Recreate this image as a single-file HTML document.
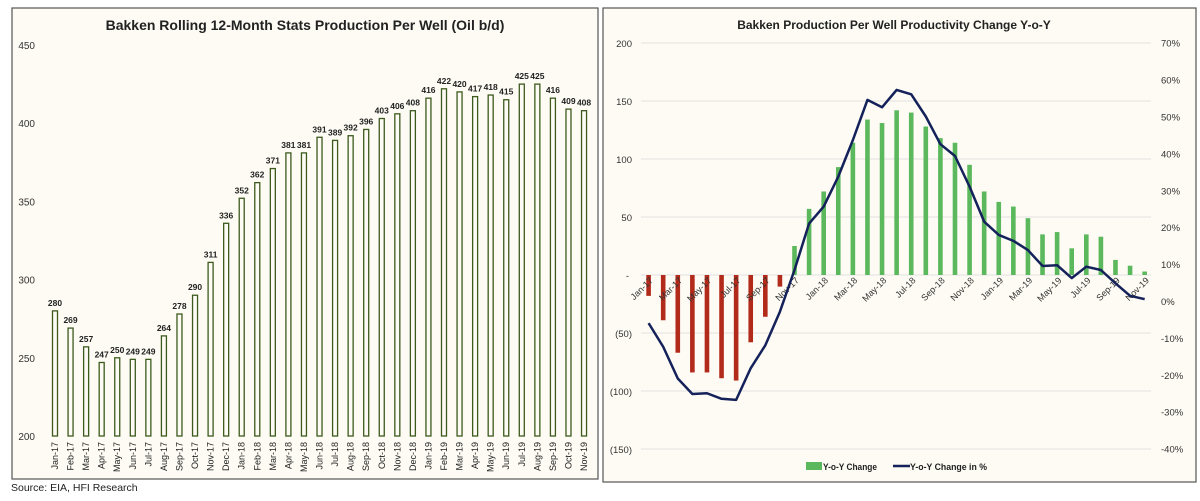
<!DOCTYPE html>
<html><head><meta charset="utf-8"><style>
html,body{margin:0;padding:0;background:#fff;}
svg{display:block;font-family:"Liberation Sans",sans-serif;}
</style></head><body>
<svg id="s" width="1200" height="501" viewBox="0 0 1200 501">
<rect x="12" y="8" width="586" height="471" fill="#fdfbf3" stroke="#555" stroke-width="1.2"/>
<text x="305" y="30" text-anchor="middle" font-size="14" font-weight="bold" fill="#222">Bakken Rolling 12-Month Stats Production Per Well (Oil b/d)</text>
<g id="L"></g>
<text x="11" y="491" font-size="10.5" fill="#222">Source: EIA, HFI Research</text>
<rect x="603" y="8" width="593" height="474" fill="#fdfbf3" stroke="#555" stroke-width="1.2"/>
<text x="894" y="29" text-anchor="middle" font-size="12" font-weight="bold" fill="#222">Bakken Production Per Well Productivity Change Y-o-Y</text>
<g id="R"></g>
<rect x="806" y="462" width="16" height="8" fill="#5cb85c"/>
<text x="823" y="470" font-size="9" font-weight="bold" fill="#222" textLength="54" lengthAdjust="spacingAndGlyphs">Y-o-Y Change</text>
<line x1="893" y1="466" x2="910" y2="466" stroke="#14215a" stroke-width="2.5"/>
<text x="910" y="470" font-size="9" font-weight="bold" fill="#222" textLength="77" lengthAdjust="spacingAndGlyphs">Y-o-Y Change in %</text>
</svg>
<script>
const months = ["Jan-17","Feb-17","Mar-17","Apr-17","May-17","Jun-17","Jul-17","Aug-17","Sep-17","Oct-17","Nov-17","Dec-17","Jan-18","Feb-18","Mar-18","Apr-18","May-18","Jun-18","Jul-18","Aug-18","Sep-18","Oct-18","Nov-18","Dec-18","Jan-19","Feb-19","Mar-19","Apr-19","May-19","Jun-19","Jul-19","Aug-19","Sep-19","Oct-19","Nov-19"];
const perWell = [280,269,257,247,250,249,249,264,278,290,311,336,352,362,371,381,381,391,389,392,396,403,406,408,416,422,420,417,418,415,425,425,416,409,408];
const leftTicks = [200,250,300,350,400,450];
const yoyChange = [-18,-39,-67,-84,-84,-89,-91,-58,-36,-10,25,57,72,93,114,134,131,142,140,128,118,114,95,72,63,59,49,35,37,23,35,33,13,8,3];
const yoyPct = [-6,-12.4,-21,-25.2,-25,-26.5,-26.8,-18.2,-12,-2.9,8.4,21,25.6,33.7,43.6,54.5,52.5,57.2,56,50,42.5,39.3,31,21.5,17.9,16.3,13.8,9.5,9.7,6.2,9.3,8.4,4.8,1.4,0.5];
const rightTicks = [-150,-100,-50,0,50,100,150,200];
const rightTickLabels = ["(150)","(100)","(50)","-","50","100","150","200"];
const pctTicks = [-40,-30,-20,-10,0,10,20,30,40,50,60,70];

const NS="http://www.w3.org/2000/svg";
function mk(p,t,a,txt){const e=document.createElementNS(NS,t);for(const k in a)e.setAttribute(k,a[k]);if(txt!==undefined)e.textContent=txt;p.appendChild(e);return e;}
const L=document.getElementById('L'), R=document.getElementById('R');
// left
const ly=v=>436-(v-200)*(391/250);
const lx=i=>55+i*15.56;
leftTicks.forEach(t=>{const e=mk(L,'text',{x:35,y:ly(t)+4,'text-anchor':'end','font-size':10,fill:'#333'},t);

});
perWell.forEach((v,i)=>{
const b=mk(L,'rect',{x:lx(i)-2.5,y:ly(v),width:5,height:ly(200)-ly(v),fill:'#fdfbf3',stroke:'#3c5a1e','stroke-width':1.3});


const t=mk(L,'text',{x:lx(i),y:ly(v)-5,'text-anchor':'middle','font-size':8.5,'font-weight':'bold',fill:'#222'},v);


const m=mk(L,'text',{transform:`translate(${lx(i)+3},442) rotate(-90)`,'text-anchor':'end','font-size':9,fill:'#222'},months[i]);


});
// right
const ry=v=>275-v*1.16;
const py=p=>301-p*3.69;
const rx=i=>648.6+i*14.59;
rightTicks.forEach((t,k)=>{
const g=mk(R,'line',{x1:641,x2:1151,y1:ry(t),y2:ry(t),stroke:'#e2e2e2','stroke-width':1});


const e=mk(R,'text',{x:t===0?629:632,y:ry(t)+4,'text-anchor':'end','font-size':9.5,fill:'#333'},rightTickLabels[k]);

});
pctTicks.forEach(p=>{const e=mk(R,'text',{x:1161,y:py(p)+4,'font-size':9.5,fill:'#333'},p+'%');

});
yoyChange.forEach((v,i)=>{
const b=mk(R,'rect',{x:rx(i)-2.3,y:v>=0?ry(v):ry(0),width:4.6,height:Math.abs(ry(v)-ry(0)),fill:v>=0?'#5cb85c':'#b22a1a'});


if(i%2===0){const m=mk(R,'text',{transform:`translate(${rx(i)+5},281) rotate(-45)`,'text-anchor':'end','font-size':9,fill:'#333'},months[i]);

}
});
const pl=mk(R,'polyline',{points:yoyPct.map((p,i)=>rx(i)+','+py(p)).join(' '),fill:'none',stroke:'#14215a','stroke-width':2.5,'stroke-linejoin':'round'});


</script>
</body></html>
